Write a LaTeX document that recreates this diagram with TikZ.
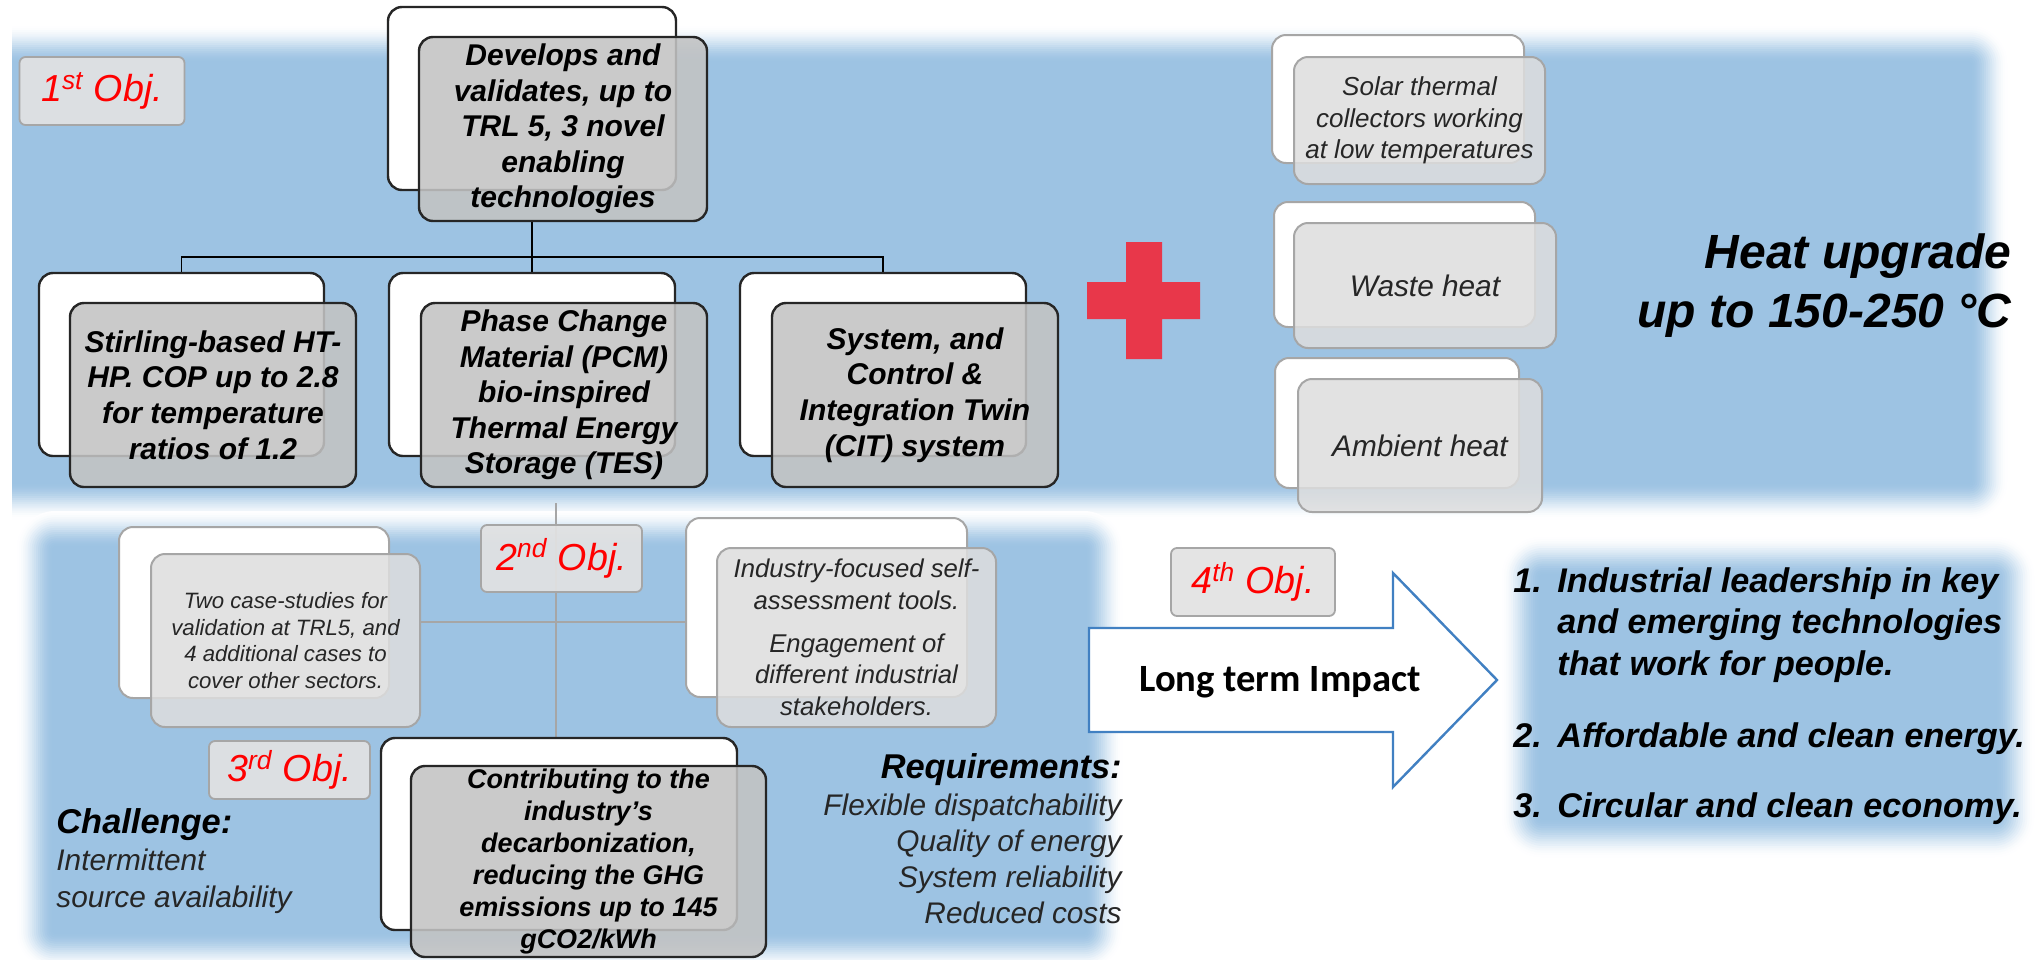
\documentclass[tikz,border=0pt]{standalone}
\usepackage{fontspec}
\setmainfont{Liberation Sans}
\newfontfamily\calibfont{Carlito}
\usetikzlibrary{calc}

\definecolor{bandblue}{HTML}{9DC3E3}
\definecolor{boxgray}{HTML}{C3C3C3}
\definecolor{palegray}{HTML}{DEDEDE}
\definecolor{edgegray}{HTML}{A6A6A6}
\definecolor{objfill}{HTML}{E2E2E2}
\definecolor{objred}{HTML}{FF0000}
\definecolor{plusred}{HTML}{E8374A}
\definecolor{arrowblue}{HTML}{4180C2}
\definecolor{inkdark}{HTML}{262626}

\newcommand{\fsz}[2]{\fontsize{#1}{#2}\selectfont}

\pgfdeclarelayer{bands}
\pgfdeclarelayer{links}
\pgfsetlayers{bands,links,main}

% blue panel with soft edges: corners (#1,#2)-(#3,#4), fade width #5;
% drawn as nested solid rectangles, outermost palest
\newcommand{\softpanel}[5]{%
  \foreach \k in {1,...,18}{%
    \pgfmathsetmacro{\ee}{#5*(0.5-(\k-1)/18)}%
    \pgfmathsetmacro{\tt}{\k/18}%
    \pgfmathsetmacro{\pc}{100*(3*\tt*\tt-2*\tt*\tt*\tt)}%
    \pgfmathsetmacro{\rr}{max(0.5,0.5*(\ee+#5/2))}%
    \fill[bandblue!\pc!white, rounded corners=\rr pt]
      ({#1-(\ee)},{#2-(\ee)}) rectangle ({#3+(\ee)},{#4+(\ee)});
  }}

\tikzset{
  darkback/.style={draw=inkdark, line width=1.2pt, fill=white, rounded corners=7pt, inner sep=0pt},
  darkfront/.style={draw=inkdark, line width=1.2pt, fill=boxgray, fill opacity=0.88, text opacity=1,
    rounded corners=7pt, inner sep=0pt, align=center, font=\bfseries\itshape\fsz{15}{17.8}},
  lightback/.style={draw=edgegray, line width=1pt, fill=white, rounded corners=7pt, inner sep=0pt},
  lightfront/.style={draw=edgegray, line width=1pt, fill=palegray, fill opacity=0.85, text opacity=1,
    rounded corners=7pt, inner sep=0pt, align=center, text=inkdark, font=\itshape},
  objbox/.style={draw=edgegray, line width=0.9pt, fill=objfill, fill opacity=0.92, text opacity=1,
    rounded corners=3pt, inner sep=0pt, text=objred, font=\itshape\fsz{18.8}{22}},
  treeline/.style={draw=black, line width=0.75pt},
  crossline/.style={draw=edgegray, line width=0.9pt},
  freetext/.style={inner sep=0pt, anchor=base west},
  heat/.style={inner sep=0pt, anchor=base east, font=\bfseries\itshape\fsz{24}{29.5}},
  listtxt/.style={freetext, font=\bfseries\itshape\fsz{17.1}{20.25}},
  reqline/.style={inner sep=0pt, anchor=base east, text=inkdark, font=\itshape\fsz{14.9}{18}},
  impactarrow/.style={draw=arrowblue, line width=1.2pt, fill=white, line join=miter}
}

\begin{document}
\begin{tikzpicture}[x=0.5pt, y=-0.5pt]
\useasboundingbox (0,0) rectangle (2038,959);

\begin{pgfonlayer}{bands}
  \fill[white] (0,0) rectangle (2038,959);
  \begin{scope}
    \clip (12,0) rectangle (2038,959);
    \softpanel{-30}{45}{1988}{500}{38}
  \end{scope}
  \softpanel{36}{530}{1103}{950}{38}
  \softpanel{1522}{557}{2014}{837}{40}
\end{pgfonlayer}

% ---- objective 1: technologies tree ----
\node[darkback, minimum width=144pt, minimum height=91.5pt] (A0) at (532,98.5) {};
\node[darkfront, minimum width=144pt, minimum height=92pt] (A) at (563,129)
  {Develops and\\validates, up to\\TRL 5, 3 novel\\enabling\\technologies};

\node[darkback, minimum width=142.5pt, minimum height=91.5pt] (B0) at (181.5,364.5) {};
\node[darkfront, minimum width=143pt, minimum height=92pt] (B) at (213,395)
  {Stirling-based HT-\\HP. COP up to 2.8\\for temperature\\ratios of 1.2};

\node[darkback, minimum width=143pt, minimum height=91.5pt] (C0) at (532,364.5) {};
\node[darkfront, minimum width=143pt, minimum height=92pt] (C) at (564,395)
  {Phase Change\\Material (PCM)\\bio-inspired\\Thermal Energy\\Storage (TES)};

\node[darkback, minimum width=143pt, minimum height=91.5pt] (D0) at (883,364.5) {};
\node[darkfront, minimum width=143pt, minimum height=92pt] (D) at (915,395)
  {System, and\\Control \&\\Integration Twin\\(CIT) system};

\coordinate (busy) at (0,257);
\begin{pgfonlayer}{links}
  \draw[treeline] (A0.south |- A.south) -- (A0.south |- busy);
  \draw[treeline] (B0.north) |- (A0.south |- busy) -| (D0.north);
  \draw[treeline] (A0.south |- busy) -- (C0.north);
\end{pgfonlayer}

\node[objbox, minimum width=82.5pt, minimum height=34pt] (o1) at (102,91) {1\textsuperscript{st} Obj.};

% ---- heat sources ----
\fill[plusred] (1126,242) rectangle (1162,359) (1087,282) rectangle (1200,319);

\node[lightback, minimum width=126pt, minimum height=64pt] (S0) at (1398,99) {};
\node[lightfront, minimum width=125.5pt, minimum height=63.5pt, font=\itshape\fsz{13}{15.75}] (S) at (1419.5,120.5)
  {Solar thermal\\collectors working\\at low temperatures};

\node[lightback, minimum width=130.5pt, minimum height=62.5pt] (W0) at (1404.5,264.5) {};
\node[lightfront, minimum width=131pt, minimum height=62.5pt, font=\itshape\fsz{14.9}{18}] (W) at (1425,285.5) {Waste heat};

\node[lightback, minimum width=122pt, minimum height=65pt] (M0) at (1397,423) {};
\node[lightfront, minimum width=122pt, minimum height=66.5pt, font=\itshape\fsz{14.9}{18}] (M) at (1420,445.5) {Ambient heat};

\node[heat] (h1) at (2012,268) {Heat upgrade};
\node[heat] (h2) at (2012,327) {up to 150-250 °C};

% ---- objectives 2 and 3 ----
\node[lightback, minimum width=135pt, minimum height=85.5pt] (F0) at (254,612.5) {};
\node[lightfront, minimum width=134.5pt, minimum height=86.5pt, font=\itshape\fsz{11.1}{13.35}] (F) at (285.5,640.5)
  {Two case-studies for\\validation at TRL5, and\\4 additional cases to\\cover other sectors.};

\node[lightback, minimum width=140.5pt, minimum height=89.5pt] (G0) at (826.5,607.5) {};
\node[lightfront, minimum width=139.5pt, minimum height=89.5pt, font=\itshape\fsz{12.85}{15.75}] (G) at (856.5,637.5)
  {Industry-focused self-\\assessment tools.\\[5.75pt]Engagement of\\different industrial\\stakeholders.};

\node[darkback, minimum width=178pt, minimum height=96pt] (E0) at (559,834) {};
\node[darkfront, minimum width=177.5pt, minimum height=95.5pt, font=\bfseries\itshape\fsz{13.5}{16}] (E) at (588.5,861.5)
  {Contributing to the\\industry’s\\decarbonization,\\reducing the GHG\\emissions up to 145\\gCO2/kWh};

\coordinate (vtop) at (556,503);
\coordinate (hy) at (0,622);
\begin{pgfonlayer}{links}
  \draw[crossline] (vtop) -- (vtop |- E0.north);
  \draw[crossline] (F.east |- hy) -- (G0.west |- hy);
\end{pgfonlayer}

\node[objbox, minimum width=80.5pt, minimum height=33.5pt] (o2) at (561.5,558.5) {2\textsuperscript{nd} Obj.};
\node[objbox, minimum width=80.5pt, minimum height=29pt] (o3) at (289.5,770) {3\textsuperscript{rd} Obj.};

\node[freetext, font=\bfseries\itshape\fsz{17.2}{20}] (ch) at (56,833) {Challenge:};
\node[freetext, text=inkdark, font=\itshape\fsz{14.9}{18}] (ch1) at (56,870) {Intermittent};
\node[freetext, text=inkdark, font=\itshape\fsz{14.9}{18}] (ch2) at (56,907) {source availability};

\node[inner sep=0pt, anchor=base east, font=\bfseries\itshape\fsz{17.2}{20}] (rq) at (1122,778) {Requirements:};
\node[reqline] (rq1) at (1122,815) {Flexible dispatchability};
\node[reqline] (rq2) at (1122,851) {Quality of energy};
\node[reqline] (rq3) at (1122,887) {System reliability};
\node[reqline] (rq4) at (1122,923) {Reduced costs};

% ---- objective 4: long term impact ----
\node[objbox, minimum width=82pt, minimum height=34pt] (o4) at (1253,582) {4\textsuperscript{th} Obj.};
\draw[impactarrow] (1089,628) -- (1393,628) -- (1393,573) -- (1497,680) -- (1393,787) -- (1393,732) -- (1089,732) -- cycle;
\node[font=\calibfont\bfseries\fsz{19.3}{23}] (lt) at (1280,682) {Long term Impact};

\node[listtxt] (l1n) at (1513,592) {1.};
\node[listtxt] (l1a) at (1557,592) {Industrial leadership in key};
\node[listtxt] (l1b) at (1557,633) {and emerging technologies};
\node[listtxt] (l1c) at (1557,675) {that work for people.};
\node[listtxt] (l2n) at (1513,747) {2.};
\node[listtxt] (l2) at (1557,747) {Affordable and clean energy.};
\node[listtxt] (l3n) at (1513,817) {3.};
\node[listtxt] (l3) at (1557,817) {Circular and clean economy.};
\end{tikzpicture}
\end{document}
